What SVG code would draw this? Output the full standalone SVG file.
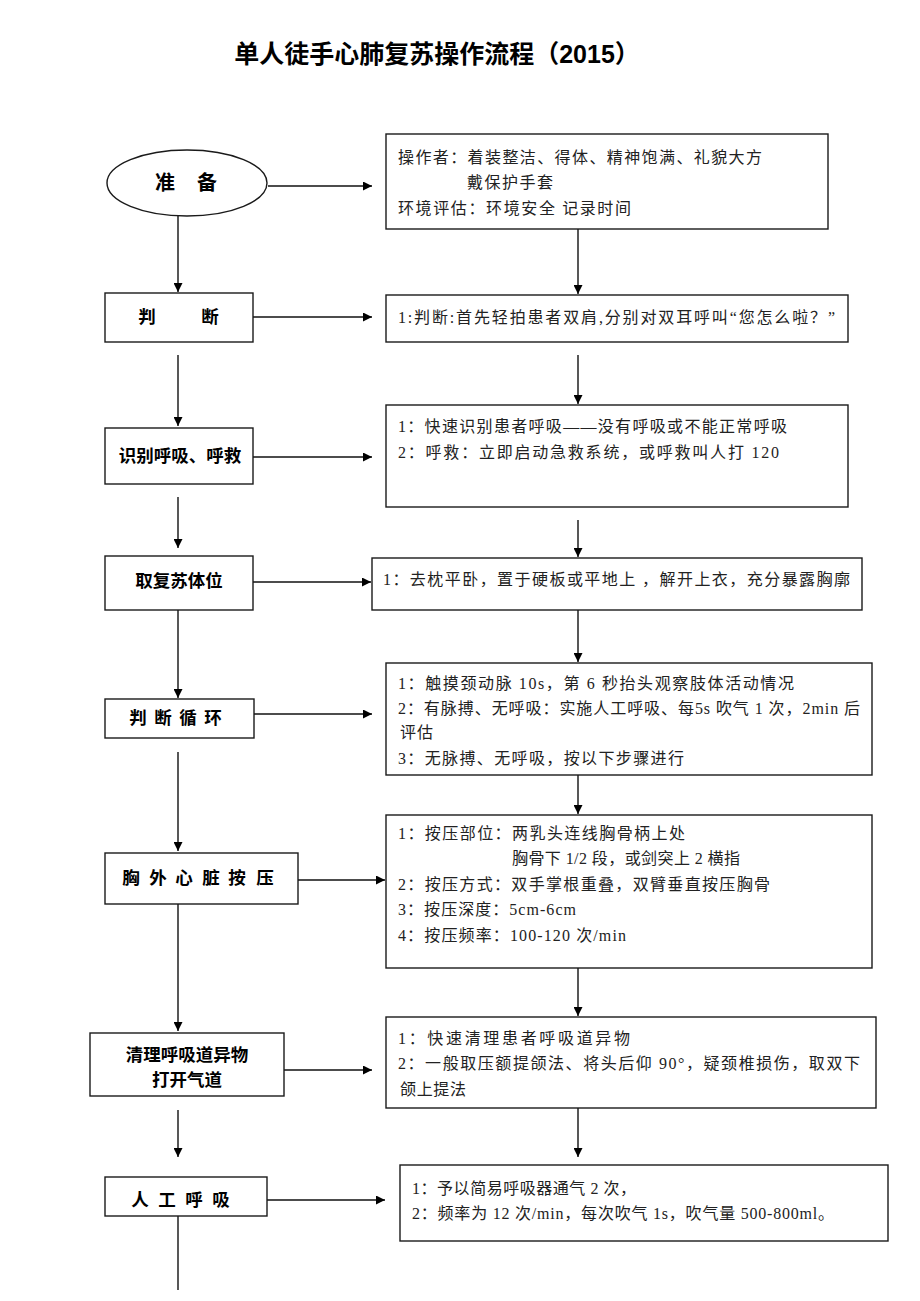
<svg xmlns="http://www.w3.org/2000/svg" width="920" height="1301" viewBox="0 0 920 1301">
<defs>
<marker id="ah" viewBox="0 0 10 10" refX="10" refY="5" markerWidth="9" markerHeight="9" markerUnits="userSpaceOnUse" orient="auto">
<path d="M0,0 L10,5 L0,10 z" fill="#000"/>
</marker>
<style>
.box{fill:#fff;stroke:#1a1a1a;stroke-width:1.4}
.ln{stroke:#111;stroke-width:1.4;fill:none}
.ar{stroke:#111;stroke-width:1.4;fill:none;marker-end:url(#ah)}
.lt{font-family:"Liberation Sans","Noto Sans CJK SC",sans-serif;font-weight:bold;font-size:17.5px;fill:#000;text-anchor:middle}
.rt{font-family:"Liberation Serif","Noto Sans CJK SC",serif;font-size:16px;fill:#222}
.title{font-family:"Liberation Sans","Noto Sans CJK SC",sans-serif;font-weight:bold;font-size:25px;fill:#000;text-anchor:middle}
</style>
</defs>
<rect width="920" height="1301" fill="#fff"/>
<text class="title" x="437" y="63">单人徒手心肺复苏操作流程（2015）</text>

<g id="connectors">
<line class="ar" x1="268" y1="186" x2="372" y2="186"/>
<line class="ar" x1="178" y1="215" x2="178" y2="292"/>
<line class="ar" x1="578" y1="229" x2="578" y2="294"/>
<line class="ar" x1="253" y1="317" x2="372" y2="317"/>
<line class="ar" x1="178" y1="355" x2="178" y2="426"/>
<line class="ar" x1="578" y1="355" x2="578" y2="404"/>
<line class="ar" x1="253" y1="457" x2="372" y2="457"/>
<line class="ar" x1="178" y1="497" x2="178" y2="548"/>
<line class="ar" x1="578" y1="520" x2="578" y2="557"/>
<line class="ar" x1="253" y1="582" x2="371" y2="582"/>
<line class="ar" x1="178" y1="610" x2="178" y2="698"/>
<line class="ar" x1="578" y1="610" x2="578" y2="662"/>
<line class="ar" x1="254" y1="714" x2="372" y2="714"/>
<line class="ar" x1="178" y1="752" x2="178" y2="851"/>
<line class="ar" x1="578" y1="775" x2="578" y2="814"/>
<line class="ar" x1="298" y1="880" x2="385" y2="880"/>
<line class="ar" x1="178" y1="904" x2="178" y2="1031"/>
<line class="ar" x1="578" y1="968" x2="578" y2="1016"/>
<line class="ar" x1="284" y1="1070" x2="372" y2="1070"/>
<line class="ar" x1="178" y1="1110" x2="178" y2="1157"/>
<line class="ar" x1="578" y1="1108" x2="578" y2="1157"/>
<line class="ar" x1="267" y1="1200" x2="385" y2="1200"/>
<line class="ln" x1="178" y1="1216" x2="178" y2="1290"/>
</g>

<g id="n-prep">
<ellipse class="box" cx="187" cy="183" rx="80" ry="33"/>
<text class="lt" x="165 207" y="190" style="font-size:20px">准备</text>
</g>
<g id="n-prep-detail">
<rect class="box" x="386" y="134" width="442" height="95"/>
<text class="rt" x="398" y="163" textLength="364" lengthAdjust="spacing">操作者：着装整洁、得体、精神饱满、礼貌大方</text>
<text class="rt" x="467" y="188" textLength="86" lengthAdjust="spacing">戴保护手套</text>
<text class="rt" x="398" y="214" textLength="233" lengthAdjust="spacing">环境评估：环境安全 记录时间</text>
</g>

<g id="n-judge">
<rect class="box" x="105" y="293" width="148" height="49"/>
<text class="lt" x="147 210" y="323">判断</text>
</g>
<g id="n-judge-detail">
<rect class="box" x="386" y="295" width="462" height="47"/>
<text class="rt" x="398" y="323" textLength="437" lengthAdjust="spacing">1:判断:首先轻拍患者双肩,分别对双耳呼叫“您怎么啦？”</text>
</g>

<g id="n-identify">
<rect class="box" x="105" y="428" width="148" height="56"/>
<text class="lt" x="180" y="462">识别呼吸、呼救</text>
</g>
<g id="n-identify-detail">
<rect class="box" x="386" y="405" width="462" height="102"/>
<text class="rt" x="398" y="432" textLength="389" lengthAdjust="spacing">1：快速识别患者呼吸——没有呼吸或不能正常呼吸</text>
<text class="rt" x="398" y="458" textLength="381" lengthAdjust="spacing">2：呼救：立即启动急救系统，或呼救叫人打 120</text>
</g>

<g id="n-position">
<rect class="box" x="105" y="556" width="148" height="54"/>
<text class="lt" x="179" y="587">取复苏体位</text>
</g>
<g id="n-position-detail">
<rect class="box" x="372" y="558" width="490" height="52"/>
<text class="rt" x="383" y="585" textLength="467" lengthAdjust="spacing">1：去枕平卧，置于硬板或平地上 ，解开上衣，充分暴露胸廓</text>
</g>

<g id="n-circ">
<rect class="box" x="105" y="699" width="149" height="39"/>
<text class="lt" x="138 163 188 213" y="724">判断循环</text>
</g>
<g id="n-circ-detail">
<rect class="box" x="386" y="663" width="486" height="112"/>
<text class="rt" x="398" y="689" textLength="396" lengthAdjust="spacing">1：触摸颈动脉 10s，第 6 秒抬头观察肢体活动情况</text>
<text class="rt" x="398" y="714" textLength="462" lengthAdjust="spacing">2：有脉搏、无呼吸：实施人工呼吸、每5s 吹气 1 次，2min 后</text>
<text class="rt" x="400" y="738" textLength="33" lengthAdjust="spacing">评估</text>
<text class="rt" x="398" y="764" textLength="286" lengthAdjust="spacing">3：无脉搏、无呼吸，按以下步骤进行</text>
</g>

<g id="n-cpr">
<rect class="box" x="105" y="853" width="193" height="51"/>
<text class="lt" x="131 158 184 211 237 265" y="884">胸外心脏按压</text>
</g>
<g id="n-cpr-detail">
<rect class="box" x="386" y="815" width="486" height="153"/>
<text class="rt" x="398" y="839" textLength="287" lengthAdjust="spacing">1：按压部位：两乳头连线胸骨柄上处</text>
<text class="rt" x="512" y="864" textLength="228" lengthAdjust="spacing">胸骨下 1/2 段，或剑突上 2 横指</text>
<text class="rt" x="398" y="890" textLength="372" lengthAdjust="spacing">2：按压方式：双手掌根重叠，双臂垂直按压胸骨</text>
<text class="rt" x="398" y="915" textLength="178" lengthAdjust="spacing">3：按压深度：5cm-6cm</text>
<text class="rt" x="398" y="941" textLength="228" lengthAdjust="spacing">4：按压频率：100-120 次/min</text>
</g>

<g id="n-airway">
<rect class="box" x="90" y="1033" width="194" height="63"/>
<text class="lt" x="187" y="1061">清理呼吸道异物</text>
<text class="lt" x="187" y="1086">打开气道</text>
</g>
<g id="n-airway-detail">
<rect class="box" x="386" y="1017" width="490" height="91"/>
<text class="rt" x="398" y="1044" textLength="232" lengthAdjust="spacing">1：快速清理患者呼吸道异物</text>
<text class="rt" x="398" y="1069" textLength="462" lengthAdjust="spacing">2：一般取压额提颌法、将头后仰 90°，疑颈椎损伤，取双下</text>
<text class="rt" x="400" y="1095" textLength="66" lengthAdjust="spacing">颌上提法</text>
</g>

<g id="n-breath">
<rect class="box" x="105" y="1177" width="162" height="39"/>
<text class="lt" x="140 167 194 221" y="1206">人工呼吸</text>
</g>
<g id="n-breath-detail">
<rect class="box" x="400" y="1165" width="488" height="76"/>
<text class="rt" x="412" y="1194" textLength="224" lengthAdjust="spacing">1：予以简易呼吸器通气 2 次，</text>
<text class="rt" x="412" y="1219" textLength="422" lengthAdjust="spacing">2：频率为 12 次/min，每次吹气 1s，吹气量 500-800ml。</text>
</g>
</svg>
